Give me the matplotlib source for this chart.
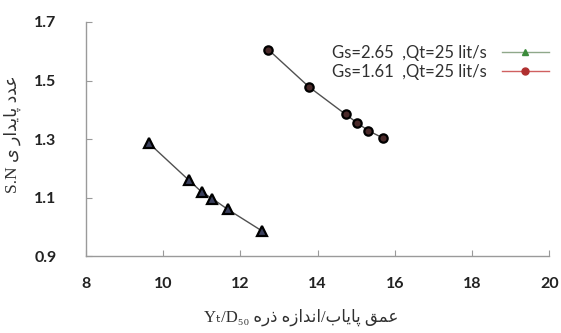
import matplotlib
matplotlib.use("Agg")
import matplotlib.pyplot as plt
from matplotlib.lines import Line2D

# measured points, Gs=2.65 (triangles) and Gs=1.61 (circles)
x_gs265 = [9.64, 10.67, 11.0, 11.28, 11.67, 12.56]
sn_gs265 = [1.285, 1.159, 1.119, 1.096, 1.060, 0.986]
x_gs161 = [12.73, 13.78, 14.73, 15.03, 15.32, 15.69]
sn_gs161 = [1.605, 1.478, 1.384, 1.355, 1.328, 1.304]

labels = ["Gs=2.65  ,Qt=25 lit/s", "Gs=1.61  ,Qt=25 lit/s"]
x_ticks = [8, 10, 12, 14, 16, 18, 20]
y_ticks = [0.9, 1.1, 1.3, 1.5, 1.7]

# presentation forms: isolated, final, initial, medial
FORMS = {
    "ع": (0xFEC9, 0xFECA, 0xFECB, 0xFECC),
    "م": (0xFEE1, 0xFEE2, 0xFEE3, 0xFEE4),
    "ق": (0xFED5, 0xFED6, 0xFED7, 0xFED8),
    "پ": (0xFB56, 0xFB57, 0xFB58, 0xFB59),
    "ی": (0xFBFC, 0xFBFD, 0xFBFE, 0xFBFF),
    "ب": (0xFE8F, 0xFE90, 0xFE91, 0xFE92),
    "ن": (0xFEE5, 0xFEE6, 0xFEE7, 0xFEE8),
    "ه": (0xFEE9, 0xFEEA, 0xFEEB, 0xFEEC),
    "ا": (0xFE8D, 0xFE8E),
    "د": (0xFEA9, 0xFEAA),
    "ذ": (0xFEAB, 0xFEAC),
    "ر": (0xFEAD, 0xFEAE),
    "ز": (0xFEAF, 0xFEB0),
}


def shape(text):
    # join persian letters and return them in visual (left to right) order
    out = []
    for i, c in enumerate(text):
        if c not in FORMS:
            out.append(c)
            continue
        f = FORMS[c]
        prev_join = i > 0 and text[i - 1] in FORMS and len(FORMS[text[i - 1]]) == 4
        next_join = len(f) == 4 and i + 1 < len(text) and text[i + 1] in FORMS
        if prev_join and next_join:
            out.append(chr(f[3]))
        elif prev_join:
            out.append(chr(f[1]))
        elif next_join:
            out.append(chr(f[2]))
        else:
            out.append(chr(f[0]))
    return "".join(out)[::-1]


fig = plt.figure(figsize=(5.61, 3.33), dpi=100)
ax = fig.add_axes([0.153, 0.231, 0.826, 0.703])

ax.plot(x_gs265, sn_gs265, color="#505050", lw=1.0, zorder=2)
ax.plot(x_gs161, sn_gs161, color="#505050", lw=1.0, zorder=2)
ax.plot(x_gs265, sn_gs265, ls="none", marker="^", ms=7.5, mfc="#3a3f5c",
        mec="black", mew=1.6, zorder=3)
ax.plot(x_gs161, sn_gs161, ls="none", marker="o", ms=6, mfc="#4a2a2a",
        mec="black", mew=1.6, zorder=3)

ax.set_xlim(8, 20)
ax.set_ylim(0.9, 1.7)
ax.set_xticks(x_ticks)
ax.set_yticks(y_ticks)
ax.set_yticklabels(["%.1f" % v for v in y_ticks])
for s in ["top", "right"]:
    ax.spines[s].set_visible(False)
for s in ["left", "bottom"]:
    ax.spines[s].set_color("#9a9a9a")
    ax.spines[s].set_linewidth(1.0)
ax.tick_params(axis="both", direction="in", length=4, color="#9a9a9a",
               labelcolor="#222222", labelsize=11.5)
ax.tick_params(axis="y", pad=21)
ax.tick_params(axis="x", pad=15)
for lab in ax.get_xticklabels() + ax.get_yticklabels():
    lab.set_fontfamily("Lato")
    lab.set_fontweight("bold")

ax.set_xlabel("Y\u209c/D\u2085\u2080 " + shape("عمق پایاب/اندازه ذره"),
              family=["Liberation Serif", "DejaVu Sans"], fontsize=12,
              color="#303030")
ax.xaxis.set_label_coords(0.465, -0.225)
ax.set_ylabel("S.N " + shape("عدد پایدار ی"),
              family=["Liberation Serif", "DejaVu Sans"], fontsize=12.5,
              color="#303030")
ax.yaxis.set_label_coords(-0.14, 0.52)

handles = [
    Line2D([], [], color="#8fa88a", lw=1.0, marker="^", ms=4, mfc="#3c8c3c", mec="#3c8c3c"),
    Line2D([], [], color="#d06060", lw=1.0, marker="o", ms=5, mfc="#b03030", mec="#b03030"),
]
fig.legend(handles, labels, loc="upper right", bbox_to_anchor=(1.005, 0.91),
           frameon=False, markerfirst=False, handlelength=2.8, handletextpad=0.9,
           labelspacing=0.2, prop={"family": "Lato", "size": 12},
           labelcolor="#303030")

fig.savefig("out.png", dpi=100)
